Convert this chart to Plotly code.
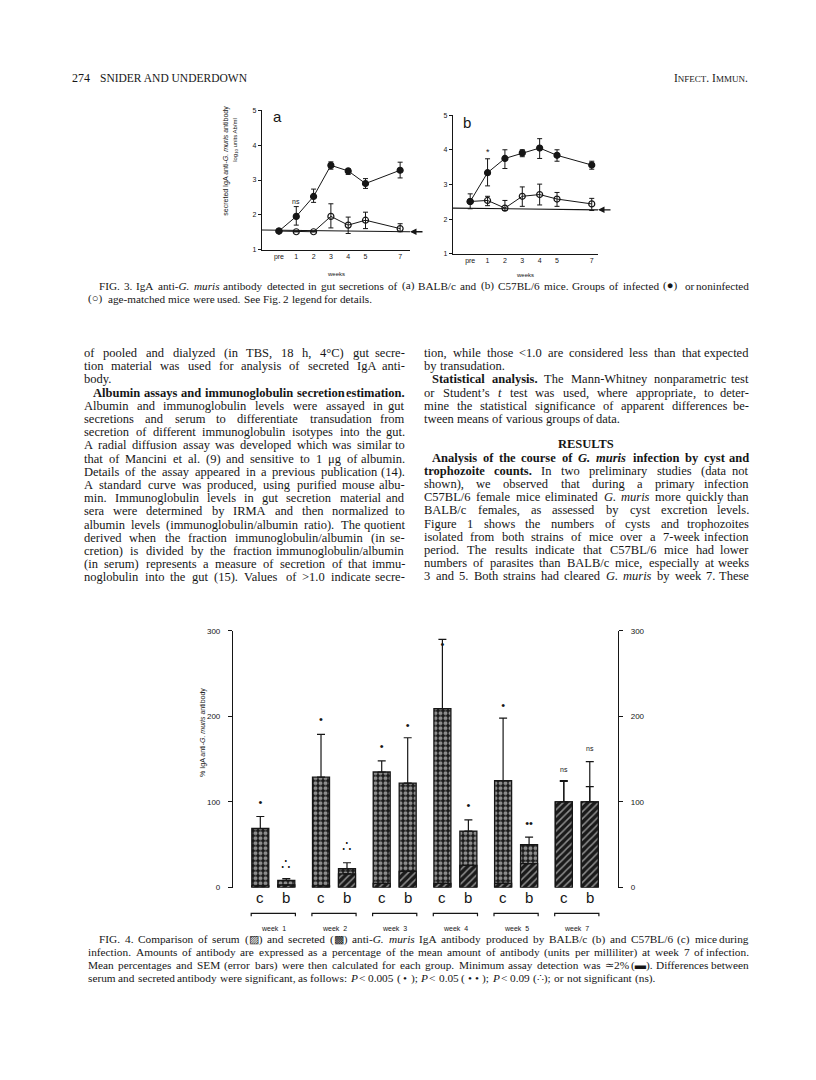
import re
import plotly.graph_objects as go

W, H = 816, 1080
SERIF = "Liberation Serif"
SANS = "Liberation Sans"
INK = "#161616"


def px(x):
    return x / W


def py(y):
    return 1 - y / H


# ---- Fig. 3 data (log10 units Ab/ml) ----
weeks = [0, 1, 2, 3, 4, 5, 7]
week_labels = ["pre", "1", "2", "3", "4", "5", "7"]

a_inf = [1.54, 1.96, 2.53, 3.42, 3.26, 2.90, 3.28]
a_inf_up = [0, 0.28, 0.21, 0.10, 0.06, 0.14, 0.23]
a_inf_dn = [0, 0.25, 0.17, 0.11, 0.10, 0.14, 0.22]
a_non = [1.54, 1.52, 1.52, 1.96, 1.71, 1.85, 1.61]
a_non_up = [0, 0, 0, 0.36, 0.23, 0.23, 0.14]
a_non_dn = [0, 0, 0, 0.33, 0.24, 0.24, 0.09]
a_detect = 1.55

b_inf = [2.51, 3.34, 3.75, 3.91, 4.05, 3.84, 3.56]
b_inf_up = [0.22, 0.40, 0.25, 0.09, 0.27, 0.16, 0.11]
b_inf_dn = [0.21, 0.38, 0.29, 0.11, 0.30, 0.17, 0.12]
b_non = [2.51, 2.54, 2.32, 2.66, 2.71, 2.58, 2.44]
b_non_up = [0, 0.12, 0.22, 0.27, 0.30, 0.19, 0.16]
b_non_dn = [0, 0.15, 0.07, 0.29, 0.30, 0.21, 0.19]
b_detect = 2.30

# ---- Fig. 4 data (% of week 7) ----
groups = ["week  1", "week  2", "week  3", "week  4", "week  5", "week  7"]
secreted_c = [69, 129, 135, 209, 125, 100]
secreted_c_err = [14, 50, 13, 81, 73, 25]
secreted_b = [8.5, 22, 122, 66, 50, 100]
secreted_b_err = [2, 7, 53, 13, 9, 47]
serum_c = [2, 2, 5, 5, 5, 100]
serum_c_err = [None, None, None, None, None, 24]
serum_b = [3, 16, 19, 26, 28, 100]
serum_b_err = [None, None, None, None, None, 18]
sig_c = ["•", "•", "•", "•", "•", "ns"]
sig_c_y = [98, 196, 164, 283, 212, 137]
sig_b = ["∴", "∴", "•", "•", "••", "ns"]
sig_b_y = [26, 47, 188, 95, 74, 161]

# ---- page text (">" prefix = indented first line, "|" suffix = ragged last line) ----
left_lines = [
    "of pooled and dialyzed (in TBS, 18 h, 4°C) gut secre-",
    "tion material was used for analysis of secreted IgA anti-",
    "body.|",
    "><b>Albumin assays and immunoglobulin secretion estimation.</b>",
    "Albumin and immunoglobulin levels were assayed in gut",
    "secretions and serum to differentiate transudation from",
    "secretion of different immunoglobulin isotypes into the gut.",
    "A radial diffusion assay was developed which was similar to",
    "that of Mancini et al. (9) and sensitive to 1 μg of albumin.",
    "Details of the assay appeared in a previous publication (14).",
    "A standard curve was produced, using purified mouse albu-",
    "min. Immunoglobulin levels in gut secretion material and",
    "sera were determined by IRMA and then normalized to",
    "albumin levels (immunoglobulin/albumin ratio). The quotient",
    "derived when the fraction immunoglobulin/albumin (in se-",
    "cretion) is divided by the fraction immunoglobulin/albumin",
    "(in serum) represents a measure of secretion of that immu-",
    "noglobulin into the gut (15). Values of >1.0 indicate secre-",
]
right_top = [
    "tion, while those <1.0 are considered less than that expected",
    "by transudation.|",
    "><b>Statistical analysis.</b> The Mann-Whitney nonparametric test",
    "or Student’s <i>t</i> test was used, where appropriate, to deter-",
    "mine the statistical significance of apparent differences be-",
    "tween means of various groups of data.|",
]
right_bottom = [
    "><b>Analysis of the course of <i>G. muris</i> infection by cyst and</b>",
    "<b>trophozoite counts.</b> In two preliminary studies (data not",
    "shown), we observed that during a primary infection",
    "C57BL/6 female mice eliminated <i>G. muris</i> more quickly than",
    "BALB/c females, as assessed by cyst excretion levels.",
    "Figure 1 shows the numbers of cysts and trophozoites",
    "isolated from both strains of mice over a 7-week infection",
    "period. The results indicate that C57BL/6 mice had lower",
    "numbers of parasites than BALB/c mice, especially at weeks",
    "3 and 5. Both strains had cleared <i>G. muris</i> by week 7. These",
]
fig3_caption = [
    ">FIG. 3.  IgA anti-<i>G. muris</i> antibody detected in gut secretions of (a) BALB/c and (b) C57BL/6 mice. Groups of infected (●) or noninfected",
    "(○) age-matched mice were used. See Fig. 2 legend for details.|",
]
fig4_caption = [
    ">FIG. 4.  Comparison of serum (▨) and secreted (▩) anti-<i>G. muris</i> IgA antibody produced by BALB/c (b) and C57BL/6 (c) mice during",
    "infection. Amounts of antibody are expressed as a percentage of the mean amount of antibody (units per milliliter) at week 7 of infection.",
    "Mean percentages and SEM (error bars) were then calculated for each group. Minimum assay detection was ≃2% (▬). Differences between",
    "serum and secreted antibody were significant, as follows: <i>P</i> < 0.005 ( • ); <i>P</i> < 0.05 ( • • ); <i>P</i> < 0.09 (∴); or not significant (ns).|",
]

# Times metrics (per 1000 em), used only to space words of justified lines
ROMAN = dict(zip("ABCDEFGHIJKLMNOPQRSTUVWXYZ",
                 [722, 667, 667, 722, 611, 556, 722, 722, 333, 389, 722, 611, 889, 722, 722, 556, 722, 667,
                  556, 611, 722, 722, 944, 722, 722, 611]))
ROMAN.update(zip("abcdefghijklmnopqrstuvwxyz",
                 [444, 500, 444, 500, 444, 333, 500, 500, 278, 278, 500, 278, 778, 500, 500, 500, 500, 333,
                  389, 278, 500, 500, 722, 500, 500, 444]))
ROMAN.update({c: 500 for c in "0123456789"})
ROMAN.update({".": 250, ",": 250, ":": 278, ";": 278, "(": 333, ")": 333, "-": 333, "/": 278,
              "’": 333, "<": 564, ">": 564, "°": 400, "μ": 500, "%": 833, "=": 564, "≃": 600,
              "●": 900, "○": 900, "▨": 900, "▩": 900, "▬": 900, "•": 400, "∴": 700})
BOLD = dict(zip("ABCDEFGHIJKLMNOPQRSTUVWXYZ",
                [722, 667, 722, 722, 667, 611, 778, 778, 389, 500, 778, 667, 944, 722, 778, 611, 778, 722,
                 556, 667, 722, 722, 1000, 722, 722, 667]))
BOLD.update(zip("abcdefghijklmnopqrstuvwxyz",
                [500, 556, 444, 556, 444, 333, 500, 556, 278, 333, 556, 278, 833, 556, 500, 556, 556, 444,
                 389, 333, 556, 500, 722, 500, 500, 444]))
ITAL = dict(zip("abcdefghijklmnopqrstuvwxyz",
                [500, 500, 444, 500, 444, 278, 500, 500, 278, 278, 444, 278, 722, 500, 500, 500, 500, 389,
                 389, 278, 500, 444, 667, 444, 444, 389]))
TAG = re.compile(r"(</?[bi]>)")

fig = go.Figure()
ann = []


def char_w(ch, bold, ital):
    if bold and ch in BOLD:
        return BOLD[ch]
    if ital and ch in ITAL:
        return ITAL[ch]
    return ROMAN.get(ch, 500)


def set_line(line, x0, x1, y, size, indent):
    ragged = line.endswith("|")
    line = line.rstrip("|")
    if line.startswith(">"):
        line = line[1:]
        x0 += indent
    bold = ital = False
    words = []
    for raw in line.split(" "):
        if not raw:
            continue
        start = ("<b>" if bold else "") + ("<i>" if ital else "")
        w = 0
        for part in TAG.split(raw):
            if part in ("<b>", "</b>", "<i>", "</i>"):
                on = not part.startswith("</")
                if "b" in part:
                    bold = on
                else:
                    ital = on
            else:
                w += sum(char_w(c, bold, ital) for c in part)
        end = ("</i>" if ital else "") + ("</b>" if bold else "")
        words.append((start + raw + end, w * size / 1000))
    total = sum(w for _, w in words)
    gap = 0.25 * size if ragged or len(words) < 2 else (x1 - x0 - total) / (len(words) - 1)
    x = x0
    for i, (markup, w) in enumerate(words):
        last = i == len(words) - 1 and not ragged and len(words) > 1
        ann.append(dict(x=px(x1 if last else x), y=py(y), xref="paper", yref="paper", text=markup,
                        showarrow=False, xanchor="right" if last else "left", yanchor="middle",
                        borderpad=0, font=dict(family=SERIF, size=size, color=INK)))
        x += w + gap


def text(x, y, s, size, family=SERIF, xanchor="left", angle=0, color=INK):
    ann.append(dict(x=px(x), y=py(y), xref="paper", yref="paper", text=s, showarrow=False,
                    xanchor=xanchor, yanchor="middle", textangle=angle,
                    font=dict(family=family, size=size, color=color)))


def add_lines(xa, ya, mean, up, dn, filled):
    fig.add_trace(go.Scatter(
        x=weeks, y=mean, xaxis=xa, yaxis=ya, mode="lines+markers",
        line=dict(color=INK, width=1),
        marker=dict(symbol="circle" if filled else "circle-open", size=6,
                    color=INK, line=dict(color=INK, width=1.2)),
        error_y=dict(type="data", symmetric=False, array=up, arrayminus=dn,
                     color=INK, thickness=1, width=2.5),
        cliponaxis=False,
    ))


add_lines("x", "y", a_non, a_non_up, a_non_dn, False)
add_lines("x", "y", a_inf, a_inf_up, a_inf_dn, True)
add_lines("x2", "y2", b_non, b_non_up, b_non_dn, False)
add_lines("x2", "y2", b_inf, b_inf_up, b_inf_dn, True)

# Fig. 4 bars
xc = [g - 0.214 for g in range(len(groups))]
xb = [g + 0.214 for g in range(len(groups))]
dots = dict(shape=".", fgcolor="white", bgcolor="#1a1a1a", size=5, solidity=0.5)
hatch = dict(shape="/", fgcolor="white", bgcolor="#1a1a1a", size=5, solidity=0.3)

for xs, vals, errs in [(xc, secreted_c, secreted_c_err), (xb, secreted_b, secreted_b_err)]:
    fig.add_trace(go.Bar(
        x=xs, y=vals, width=0.28, xaxis="x3", yaxis="y3",
        marker=dict(color="white", pattern=dots, line=dict(color=INK, width=1.3)),
        error_y=dict(type="data", symmetric=False, array=errs, arrayminus=[0] * len(errs),
                     color=INK, thickness=1.2, width=4),
    ))
for xs, vals, errs in [(xc, serum_c, serum_c_err), (xb, serum_b, serum_b_err)]:
    fig.add_trace(go.Bar(
        x=xs, y=vals, width=0.28, xaxis="x3", yaxis="y3",
        marker=dict(color="white", pattern=hatch, line=dict(color=INK, width=1.3)),
        error_y=dict(type="data", symmetric=False, array=errs, arrayminus=[0] * len(errs),
                     color=INK, thickness=1.2, width=4),
    ))
for xs, ys, labels in [(xc, sig_c_y, sig_c), (xb, sig_b_y, sig_b)]:
    fig.add_trace(go.Scatter(
        x=xs, y=ys, text=labels, mode="text", xaxis="x3", yaxis="y3", cliponaxis=False,
        textfont=dict(family=SANS, color=INK,
                      size=[7 if t == "ns" else 15 if t == "∴" else 11 for t in labels])))

small_tick = dict(family=SANS, size=7, color=INK)
ax_common = dict(showline=True, linecolor=INK, linewidth=1.2, showgrid=False, zeroline=False)

fig.update_layout(
    width=W, height=H, autosize=False, showlegend=False,
    margin=dict(l=0, r=0, t=0, b=0),
    paper_bgcolor="white", plot_bgcolor="white",
    barmode="overlay",
    xaxis=dict(domain=[px(262), px(410)], range=[-0.98, 7.57], anchor="y",
               tickvals=weeks, ticktext=week_labels, ticks="", tickfont=small_tick, **ax_common),
    yaxis=dict(domain=[py(248), py(107)], range=[1, 5], anchor="x", tickvals=[1, 2, 3, 4, 5],
               ticks="outside", ticklen=3, tickcolor=INK, tickfont=small_tick, **ax_common),
    xaxis2=dict(domain=[px(453), px(598)], range=[-0.99, 7.36], anchor="y2",
                tickvals=weeks, ticktext=week_labels, ticks="", tickfont=small_tick, **ax_common),
    yaxis2=dict(domain=[py(252), py(112)], range=[1, 5], anchor="x2", tickvals=[1, 2, 3, 4, 5],
                ticks="outside", ticklen=3, tickcolor=INK, tickfont=small_tick, **ax_common),
    xaxis3=dict(domain=[px(233), px(618)], range=[-0.664, 5.679], anchor="y3",
                visible=False),
    yaxis3=dict(domain=[py(891), py(632)], range=[0, 300], anchor="x3", tickvals=[0, 100, 200, 300],
                ticks="outside", ticklen=4, tickcolor=INK, ticklabelstandoff=6,
                tickfont=dict(family=SANS, size=8, color=INK), **ax_common),
    yaxis4=dict(domain=[py(891), py(632)], range=[0, 300], overlaying="y3", side="right",
                anchor="x3", tickvals=[0, 100, 200, 300], ticks="outside", ticklen=4,
                tickcolor=INK, ticklabelstandoff=6,
                tickfont=dict(family=SANS, size=8, color=INK), **ax_common),
)
# dummy trace so the right axis is drawn
fig.add_trace(go.Scatter(x=[None], y=[None], xaxis="x3", yaxis="y4", showlegend=False))

# detection limit lines
fig.add_shape(type="line", xref="x", yref="y", x0=-0.98, x1=7.57, y0=a_detect + 0.02, y1=a_detect - 0.03,
              line=dict(color=INK, width=1.2))
fig.add_shape(type="line", xref="x2", yref="y2", x0=-0.99, x1=7.36, y0=b_detect + 0.02, y1=b_detect - 0.03,
              line=dict(color=INK, width=1.2))

# arrows at the detection limits
for xa, ya, val, xr in [("x", "y", a_detect, 7.57), ("x2", "y2", b_detect, 7.36)]:
    ann.append(dict(x=xr, y=val - 0.03, xref=xa, yref=ya, ax=14, ay=0, text="", showarrow=True,
                    arrowhead=2, arrowsize=1, arrowwidth=1.3, arrowcolor=INK))

# header
text(70, 75, "274", 12)
text(98, 75, "SNIDER AND UNDERDOWN", 11.5)
text(750, 75, "I<span style='font-size:9px'>NFECT</span>. I<span style='font-size:9px'>MMUN</span>.",
     11.5, xanchor="right")

# fig 3 labels
text(277, 113, "a", 15, family=SANS, xanchor="center")
text(467, 119, "b", 15, family=SANS, xanchor="center")
text(336, 272, "weeks", 6, family=SANS, xanchor="center")
text(525, 273, "weeks", 6, family=SANS, xanchor="center")
text(226, 158, "secreted IgA anti-<i>G. muris</i> antibody", 7, family=SANS, xanchor="center", angle=-90)
text(236, 137, "log<sub>10</sub> units Ab/ml", 6, family=SANS, xanchor="center", angle=-90)
ann.append(dict(x=1, y=2.38, xref="x", yref="y", text="ns", showarrow=False,
                font=dict(family=SANS, size=7, color=INK)))
ann.append(dict(x=1, y=3.93, xref="x2", yref="y2", text="*", showarrow=False,
                font=dict(family=SANS, size=9, color=INK)))

# fig 4 labels
text(203, 735, "% IgA anti-<i>G. muris</i> antibody", 7, family=SANS, xanchor="center", angle=-90)
for g, name in enumerate(groups):
    for xv, lab in [(xc[g], "c"), (xb[g], "b")]:
        ann.append(dict(x=xv, y=py(901), xref="x3", yref="paper", text=lab, showarrow=False,
                        yanchor="middle", font=dict(family=SANS, size=15, color=INK)))
    ann.append(dict(x=g, y=py(932), xref="x3", yref="paper", text=name, showarrow=False,
                    yanchor="middle", font=dict(family=SANS, size=7, color=INK)))
    x0, x1 = xc[g] - 0.15, xb[g] + 0.15
    fig.add_shape(type="path", xref="x3", yref="paper",
                  path=f"M {x0} {py(920)} L {x0} {py(917)} L {x1} {py(917)} L {x1} {py(920)}",
                  line=dict(color=INK, width=1.2))

# captions
for i, s in enumerate(fig3_caption):
    set_line(s, 87, 750, 284 + 13 * i, 11.2, 11)
for i, s in enumerate(fig4_caption):
    set_line(s, 87, 750, 943 + 13.2 * i, 11.3, 11)

# body text
for i, s in enumerate(left_lines):
    set_line(s, 83, 406, 352 + 13.3 * i, 12.5, 9)
for i, s in enumerate(right_top):
    set_line(s, 423, 750, 352 + 13.3 * i, 12.5, 8)
text(586, 444, "<b>RESULTS</b>", 12.5, xanchor="center")
for i, s in enumerate(right_bottom):
    set_line(s, 423, 750, 457.5 + 13.3 * i, 12.5, 8)

fig.update_layout(annotations=ann)
fig.write_html("out.html", config={"displayModeBar": False},
               post_script="document.body.style.margin='0';")
